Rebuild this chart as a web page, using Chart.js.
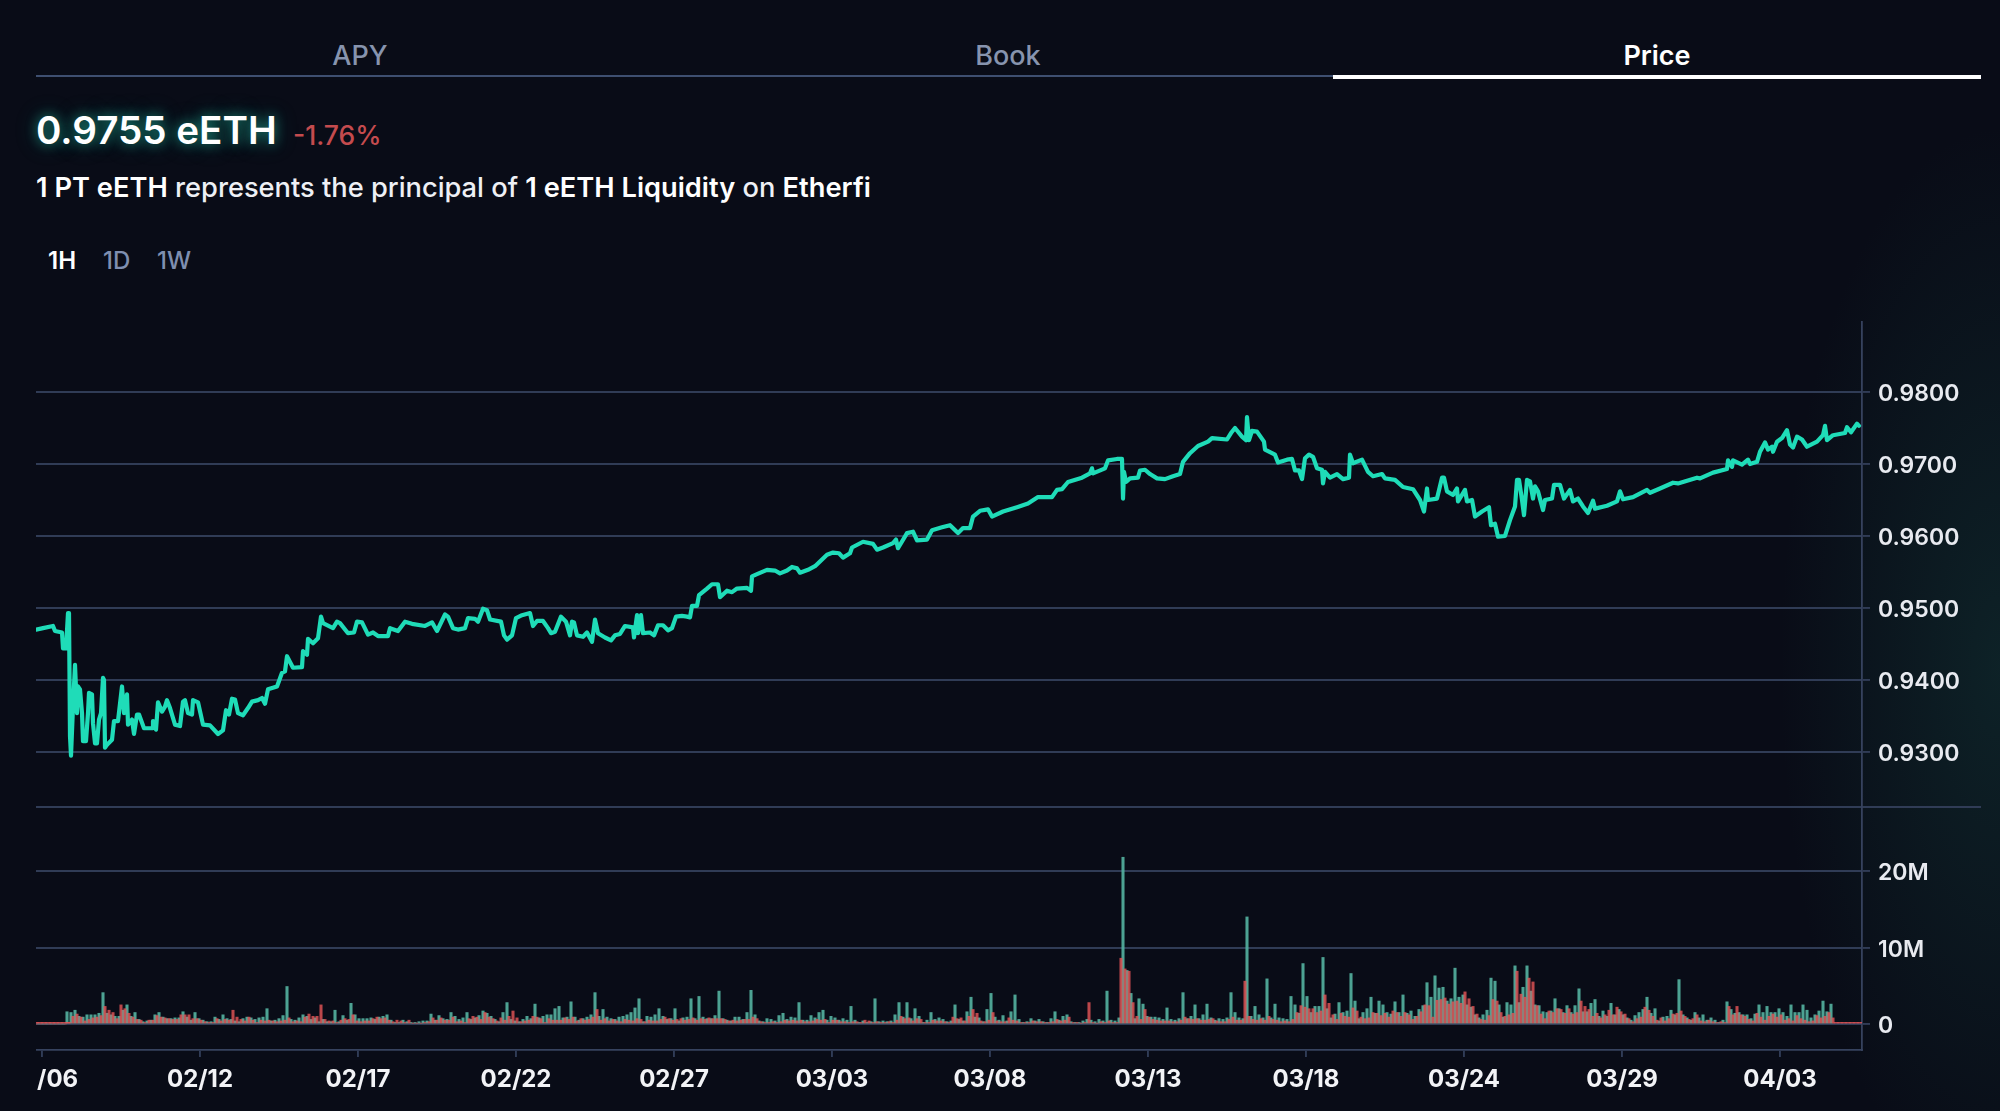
<!DOCTYPE html>
<html><head><meta charset="utf-8">
<script src="https://cdn.jsdelivr.net/npm/chart.js@4"></script>
<style>
html,body{margin:0;padding:0;width:2000px;height:1111px;overflow:hidden;background:#090c17;font-family:Inter,sans-serif;color:#fff}
#glow{position:absolute;inset:0;background:radial-gradient(ellipse 220px 540px at 100% 60%,rgba(24,84,76,.3),rgba(24,84,76,0) 100%)}
.t{position:absolute;white-space:nowrap;line-height:1;transform:translateY(-50%)}
.tab{font-size:27px;font-weight:500;color:#8794ae;text-align:center;width:648px;top:55px}
.rule{position:absolute}
canvas{position:absolute;left:36px;display:block}
b{font-weight:600;color:#fff}
</style></head><body>
<div id="glow"></div>
<div class="t tab" style="left:36px">APY</div>
<div class="t tab" style="left:684px">Book</div>
<div class="t tab" style="left:1333px;color:#fff;font-weight:600">Price</div>
<div class="rule" style="left:36px;top:75px;width:1297px;height:2px;background:#3e4f70"></div>
<div class="rule" style="left:1333px;top:75px;width:648px;height:3.5px;background:#fff"></div>
<div class="t" style="left:36px;top:130px;font-size:38.6px;font-weight:600;text-shadow:0 0 12px rgba(34,200,170,.6),0 0 22px rgba(34,200,170,.35)">0.9755 eETH</div>
<div class="t" style="left:293px;top:135px;font-size:26.5px;font-weight:500;color:#c44b4e">-1.76%</div>
<div class="t" style="left:36px;top:188px;font-size:27.25px;font-weight:500;color:#eef0f5"><b>1 PT eETH</b> represents the principal of <b>1 eETH Liquidity</b> on <b>Etherfi</b></div>
<div class="t" style="left:48px;top:261px;font-size:24px;font-weight:600">1H</div>
<div class="t" style="left:103px;top:261px;font-size:24px;font-weight:500;color:#7f8fb0">1D</div>
<div class="t" style="left:157px;top:261px;font-size:24px;font-weight:500;color:#7f8fb0">1W</div>
<div class="rule" style="left:36px;top:806px;width:1945px;height:2px;background:#303c56"></div>
<canvas id="price" width="1945" height="486" style="top:321px;width:1945px;height:486px"></canvas>
<canvas id="vol" width="1945" height="304" style="top:807px;width:1945px;height:304px"></canvas>
<script>
// time slots: 158 slots separate consecutive date ticks
const tickSlots=[0,158,316,474,632,790,948,1106,1264,1422,1580,1738];
const tickLabels=["02/06","02/12","02/17","02/22","02/27","03/03","03/08","03/13","03/18","03/24","03/29","04/03"];
const priceTicks=[0.93,0.94,0.95,0.96,0.97,0.98];
const volTicks=[0,10,20];
// [slot, price]
const pricePoints=[
[-6,.9470],[1,.9472],[11,.9475],[13,.9468],[20,.9466],[21,.9444],[24,.9444],[26,.9493],[27,.9493],[28,.9322],[29,.9295],[31,.9363],[33,.9421],[35,.9354],[36,.9391],[38,.9387],[40,.9354],[41,.9315],[44,.9315],[46,.9354],[47,.9382],[50,.9380],[51,.9340],[53,.9312],[55,.9312],[57,.9345],[59,.9354],[61,.9403],[62,.9400],[63,.9306],[65,.9310],[70,.9317],[72,.9343],[76,.9343],[80,.9391],[82,.9354],[85,.9380],[86,.9338],[90,.9345],[92,.9325],[95,.9352],[97,.9352],[102,.9333],[110,.9333],[111,.9343],[114,.9331],[116,.9369],[120,.9356],[123,.9363],[125,.9372],[128,.9361],[133,.9338],[138,.9336],[141,.9370],[143,.9372],[146,.9354],[150,.9352],[151,.9372],[156,.9369],[161,.9338],[168,.9337],[176,.9325],[181,.9330],[184,.9358],[187,.9352],[190,.9374],[193,.9373],[196,.9354],[201,.9351],[206,.9361],[210,.9370],[216,.9372],[220,.9375],[223,.9367],[226,.9387],[235,.9391],[240,.9410],[243,.9412],[245,.9433],[251,.9417],[260,.9418],[261,.9440],[265,.9435],[266,.9457],[271,.9451],[276,.9458],[279,.9488],[281,.9479],[291,.9472],[295,.9481],[298,.9479],[306,.9465],[312,.9466],[315,.9481],[320,.9480],[326,.9463],[331,.9466],[336,.9461],[346,.9461],[348,.9472],[356,.9468],[363,.9481],[370,.9478],[383,.9475],[390,.9480],[395,.9468],[403,.9491],[406,.9488],[411,.9472],[416,.9470],[423,.9472],[426,.9486],[433,.9485],[436,.9481],[441,.9499],[445,.9497],[448,.9484],[459,.9481],
[462,.9462],[465,.9456],[470,.9462],[474,.9486],[480,.9490],[488,.9493],[491,.9475],[495,.9482],[501,.9482],[506,.9472],[509,.9465],[513,.9467],[519,.9488],[524,.9481],[528,.9462],[530,.9481],[532,.9480],[535,.9462],[541,.9460],[545,.9466],[550,.9453],[553,.9484],[556,.9465],[563,.9459],[569,.9455],[573,.9462],[578,.9464],[583,.9475],[591,.9473],[592,.9459],[595,.9490],[596,.9465],[599,.9490],[601,.9465],[608,.9466],[612,.9462],[616,.9476],[621,.9476],[626,.9469],[630,.9472],[634,.9488],[640,.9489],[645,.9488],[648,.9487],[650,.9503],[655,.9503],[657,.9518],[665,.9527],[670,.9533],[676,.9533],[678,.9515],[685,.9524],[690,.9522],[695,.9527],[705,.9528],[709,.9524],[710,.9544],[715,.9547],[725,.9553],[733,.9552],[738,.9548],[745,.9552],[750,.9557],[755,.9555],[758,.9549],[766,.9553],[773,.9558],[785,.9574],[791,.9577],[797,.9576],[801,.9570],[808,.9576],[810,.9584],[821,.9592],[831,.9589],[835,.9581],[841,.9584],[851,.9590],[854,.9595],[856,.9583],[865,.9604],[871,.9606],[875,.9594],[885,.9595],[890,.9608],[900,.9612],[908,.9615],[916,.9604],[921,.9611],[928,.9611],
[931,.9627],[938,.9635],[946,.9637],[950,.9627],[961,.9634],[975,.9640],[986,.9645],[996,.9654],[1010,.9654],[1015,.9664],[1020,.9665],[1026,.9675],[1040,.9681],[1048,.9687],[1050,.9694],[1051,.9687],[1063,.9694],[1066,.9705],[1075,.9707],[1080,.9707],[1081,.9652],[1082,.9689],[1084,.9675],[1088,.9680],[1096,.9681],[1098,.9691],[1103,.9692],[1108,.9686],[1115,.9680],[1123,.9679],[1131,.9683],[1138,.9686],[1141,.9703],[1148,.9715],[1156,.9725],[1166,.9731],[1170,.9736],[1185,.9734],[1189,.9743],[1193,.9750],[1200,.9738],[1204,.9733],[1205,.9765],[1207,.9733],[1210,.9746],[1215,.9745],[1222,.9731],[1223,.9720],[1233,.9713],[1236,.9702],[1245,.9706],[1250,.9707],[1253,.9691],[1257,.9691],[1260,.9679],[1263,.9708],[1267,.9713],[1271,.9710],[1275,.9694],[1280,.9692],[1281,.9673],[1283,.9689],[1288,.9681],[1295,.9686],[1301,.9679],[1307,.9681],[1308,.9713],[1311,.9701],[1320,.9706],[1326,.9689],[1331,.9683],[1340,.9686],[1343,.9680],[1353,.9678],[1361,.9668],[1371,.9665],[1378,.9650],[1382,.9634],[1385,.9666],[1386,.9650],[1395,.9652],[1400,.9681],[1402,.9681],[1405,.9662],[1411,.9657],[1415,.9666],[1416,.9648],
[1420,.9657],[1423,.9664],[1425,.9648],[1430,.9650],[1433,.9627],[1440,.9634],[1447,.9640],[1449,.9615],[1453,.9617],[1456,.9599],[1463,.9600],[1468,.9622],[1473,.9641],[1475,.9678],[1477,.9678],[1480,.9650],[1482,.9629],[1485,.9678],[1488,.9676],[1491,.9652],[1493,.9669],[1496,.9662],[1501,.9636],[1503,.9650],[1510,.9652],[1512,.9671],[1518,.9671],[1522,.9652],[1528,.9664],[1531,.9648],[1536,.9652],[1541,.9641],[1546,.9632],[1551,.9649],[1553,.9638],[1565,.9642],[1575,.9648],[1578,.9662],[1581,.9651],[1591,.9654],[1605,.9664],[1608,.9660],[1618,.9666],[1631,.9674],[1636,.9673],[1655,.9681],[1658,.9680],[1671,.9688],[1685,.9693],[1686,.9705],[1690,.9696],[1691,.9705],[1700,.9699],[1706,.9706],[1708,.9700],[1715,.9703],[1718,.9717],[1723,.9730],[1726,.9720],[1730,.9724],[1731,.9717],[1735,.9731],[1740,.9736],[1745,.9747],[1748,.9727],[1751,.9723],[1755,.9738],[1760,.9734],[1765,.9724],[1775,.9731],[1781,.9740],[1783,.9753],[1785,.9733],[1791,.9740],[1803,.9743],[1805,.9751],[1809,.9744],[1815,.9756],[1817,.9753]
];
// volume in millions, one value every 4 slots
const greenVol=[
0,0,0,0,0,0,0,0,1.6,1.5,1.8,1.0,.9,1.2,1.2,1.2,1.4,4.1,1.4,1.2,1.0,1.0,1.8,2.5,1.0,1.5,.6,.3,.4,.5,
1.2,1.5,.9,.7,.7,.8,.8,1.6,.9,.5,1.5,.7,.5,.3,.3,.9,.6,1.2,.7,.6,.4,.3,.7,.9,.8,.6,.8,.9,2.0,.4,
.5,.7,1.1,4.9,.6,.5,.8,1.2,1.0,.6,.8,.3,.6,.3,.3,1.8,.3,1.1,.5,2.7,1.2,.7,.7,.7,.8,.6,.9,1.0,1.2,.5,
.2,.2,.5,.3,.2,.2,.3,.4,.4,1.3,.5,1.1,.7,.6,1.5,1.0,.6,.8,1.5,.6,.8,1.1,1.7,1.4,1.0,.6,.3,1.5,2.8,.6,
.4,.3,.6,1.0,.7,2.6,.8,1.0,1.2,1.2,2.0,2.3,.8,.9,2.9,.9,.5,.7,.9,1.2,4.1,1.0,1.9,.9,.7,.6,.9,1.0,1.2,1.5,
2.1,3.3,.3,1.0,.9,1.2,2.0,1.0,.6,.7,2.0,.4,.8,.9,3.3,.7,3.6,.9,.7,.7,1.1,4.3,.7,.5,.4,.9,.9,.6,1.5,4.4,
1.2,.4,.3,.7,.6,.4,1.1,1.4,.6,.9,.8,2.8,.5,.5,1.1,.8,1.5,1.8,.5,1.0,.8,.5,.7,.5,2.3,.5,.2,.4,.2,.3,
3.3,.3,.4,.3,.4,1.2,2.8,.9,2.8,.7,2.0,1.0,.2,.5,1.5,.6,.8,.6,.3,.4,2.5,.6,.4,1.6,3.5,.9,.8,.3,1.9,4.0,
.9,.5,1.1,.4,1.6,3.8,.6,.2,.3,.7,.4,.6,.3,.2,.7,1.6,.5,1.0,1.2,.3,.2,.2,.4,.6,.5,.3,.6,.4,4.3,.5,
.4,.8,21.8,7.0,4.0,.7,3.3,2.6,1.0,.9,.9,.8,.6,2.1,.6,.5,.7,4.1,.7,1.0,2.5,.7,1.2,2.6,.8,.5,.7,.6,.8,4.1,
1.5,.8,.7,14.0,1.0,2.3,1.2,.8,5.9,.8,2.6,.8,.7,.6,3.6,2.5,1.4,7.9,3.6,1.5,2.3,2.3,8.7,2.0,.8,1.3,2.8,1.5,1.7,6.6,
3.0,.7,1.5,2.0,3.5,1.4,3.0,2.5,1.5,1.3,2.9,1.5,3.8,1.4,1.7,1.0,1.9,2.4,5.4,3.5,6.3,4.7,4.8,3.0,3.3,7.3,3.5,3.8,2.5,2.2,
1.2,.8,1.2,1.8,6.0,5.6,2.5,.9,2.8,2.5,7.6,2.8,4.8,7.6,4.3,2.5,2.4,1.6,1.5,1.7,3.3,2.0,1.5,2.4,1.5,2.4,4.6,1.6,1.6,2.7,
3.2,1.0,1.7,1.0,2.7,1.2,1.9,1.2,.8,.5,1.1,1.5,1.9,3.5,1.4,2.0,.4,.9,1.0,1.8,1.2,5.8,1.2,.8,.5,1.5,.8,1.2,.5,.8,
.5,.2,.5,2.9,1.9,1.4,1.5,1.2,1.2,.7,1.3,2.5,1.5,2.3,1.5,1.5,2.0,1.5,1.0,2.5,1.5,1.5,2.5,1.8,.8,1.2,1.7,3.0,1.6,2.6
];
const redVol=[
0,0,0,0,0,0,0,0,.2,1.0,1.3,.9,.4,.6,.8,.9,1.1,2.3,1.8,1.5,.7,2.5,2.0,1.4,.9,.6,.5,.2,.5,.5,
1.1,.9,.8,.7,.6,.6,1.2,1.2,1.2,.7,.7,.5,.3,.2,.2,.7,.4,.6,.5,1.8,.9,.6,.4,.9,.5,.2,.5,.4,.5,.4,
.3,.4,.5,.8,.3,.4,.3,.9,1.3,1.0,1.0,2.5,.6,.4,.4,.2,.5,.7,.6,1.2,.4,.3,.4,.4,.7,.9,.7,.8,.5,.3,
.5,.4,.2,.5,.1,.1,.1,.2,.3,.8,.5,.8,.5,.5,.9,.3,.4,.2,.7,1.0,.9,.6,1.5,.9,.7,.4,.8,.5,1.0,1.7,
.8,.3,.4,.5,1.0,.9,.7,.2,.7,.5,.5,.5,.8,.6,.9,.4,.7,.5,.6,.9,1.9,.5,.7,.4,.6,.4,.3,.6,.5,.4,
.7,.6,.3,.5,.4,.4,.6,.9,.7,.5,.6,.7,.5,.6,.8,.5,.7,.6,.8,.7,.7,.7,.6,.4,.5,.4,.5,.6,.6,.9,
.7,.3,.2,.2,.3,.2,.3,.5,.4,.5,.4,.5,.3,.3,.4,.6,.5,.6,.2,.5,.5,.3,.3,.2,.3,.3,.2,.5,.4,.2,
.3,.2,.2,.3,.2,.5,1.0,.7,.8,.4,.7,.6,.2,.2,.5,.4,.4,.3,.2,.9,.7,.8,.4,1.0,1.9,1.4,.4,.3,.5,1.5,
.4,.3,.3,.8,.5,.4,.2,.2,.2,.4,.3,.3,.2,.2,.3,.6,.4,.5,.9,.2,.2,.1,.2,2.8,.2,.1,.3,.2,.4,.2,
.2,8.6,7.2,6.9,2.8,1.0,.6,1.9,.9,.6,.5,.4,.4,.4,.3,.3,.5,.9,.7,.6,.7,.5,.5,.6,.7,.4,.3,.3,.6,.9,
.5,.5,5.6,1.0,.6,.5,.7,.5,1.0,.6,.5,.3,.4,.3,.6,1.5,2.4,2.2,2.0,2.0,1.5,1.7,3.8,2.7,1.2,.6,1.4,1.0,.9,2.1,
1.7,.9,.7,.8,1.5,1.4,1.1,1.4,.9,1.7,1.5,1.0,1.5,1.2,.6,1.0,1.6,2.5,2.4,.9,3.1,3.2,3.4,2.6,2.9,3.0,2.7,4.2,3.3,2.3,
1.3,.6,.5,1.1,3.2,3.0,1.5,1.0,1.2,1.4,6.9,3.9,3.5,6.0,5.5,2.4,1.3,.7,1.7,1.5,2.0,1.9,1.4,2.0,1.3,1.5,3.0,2.3,1.9,1.0,
1.4,.8,1.2,1.8,1.2,2.2,1.6,1.3,.7,.3,.7,.9,2.2,1.8,1.0,.5,.8,.4,.7,1.3,1.4,1.7,1.0,.6,.7,1.2,.4,.3,.5,.3,
.2,.3,.2,2.3,1.2,2.3,1.2,1.0,.6,.4,1.4,.9,.5,1.0,1.3,.9,1.2,.5,.7,.4,1.1,.7,.5,.3,.4,1.1,.8,1.0,1.5,.8
];
// near-zero hours drawn as a flat strip at both ends of the range
const flatSlots=[-6,-2,2,6,10,14,18,22,26,1794,1798,1802,1806,1810,1814,1818];
const flatVol=[.2,.2,.2,.2,.2,.2,.2,.2,.2,.2,.2,.2,.2,.2,.2,.2];

const GRID='#303c56', AX='#36425e', TXT='#e8eaf0';
const xMin=-6,xMax=1820;
const noPad=s=>{s.paddingLeft=0;s.paddingRight=0;s.paddingTop=0;s.paddingBottom=0;};
const yScale=(min,max,ticks,fmt)=>({type:'linear',position:'right',min,max,
  afterBuildTicks:s=>{s.ticks=ticks.map(v=>({value:v}));},
  afterFit:s=>{s.width=119;noPad(s);},
  grid:{color:GRID,lineWidth:1.9,tickLength:8,drawTicks:true},
  border:{color:AX,width:1.8},
  ticks:{color:TXT,padding:8,labelOffset:2.5,autoSkip:false,font:{family:'Inter',size:23,weight:'600'},callback:fmt}});
const common={responsive:false,animation:false,devicePixelRatio:1,maintainAspectRatio:false,
  layout:{padding:0},plugins:{legend:{display:false},tooltip:{enabled:false}},events:[]};

new Chart(document.getElementById('price'),{type:'line',
  data:{datasets:[{data:pricePoints.map(p=>({x:p[0],y:p[1]})),borderColor:'#1fdcb8',borderWidth:4.2,
    pointRadius:0,tension:0,borderJoinStyle:'round',borderCapStyle:'round'}]},
  options:{...common,scales:{
    x:{type:'linear',display:false,min:xMin,max:xMax},
    y:yScale(0.92236,0.98986,priceTicks,v=>v.toFixed(4))}}});

const bar=(xs,ys,color,th)=>({type:'bar',data:ys.map((v,i)=>({x:xs(i),y:v})),backgroundColor:color,barThickness:th,borderWidth:0,grouped:false});
new Chart(document.getElementById('vol'),{type:'bar',
  data:{datasets:[
    bar(i=>flatSlots[i],flatVol,'rgba(232,86,88,.95)',4.2),
    bar(i=>i*4-5,redVol,'rgba(232,86,88,.8)',2.4),
    bar(i=>i*4-7,greenVol,'rgba(84,176,158,.92)',2.4)]},
  options:{...common,scales:{
    x:{type:'linear',min:xMin,max:xMax,offset:false,
      afterBuildTicks:s=>{s.ticks=tickSlots.map(v=>({value:v}));},
      afterFit:s=>{s.height=61;noPad(s);},
      grid:{display:true,drawOnChartArea:false,drawTicks:true,tickLength:7,color:GRID,lineWidth:1.9,offset:false},
      border:{color:AX,width:1.8},
      ticks:{color:'#f2f3f6',padding:8,autoSkip:false,maxRotation:0,minRotation:0,font:{family:'Inter',size:24,weight:'700'},
        callback:v=>tickLabels[tickSlots.indexOf(v)]}},
    y:yScale(-3.4,28.37,volTicks,v=>v===0?'0':v+'M')}}});
</script>
</body></html>
